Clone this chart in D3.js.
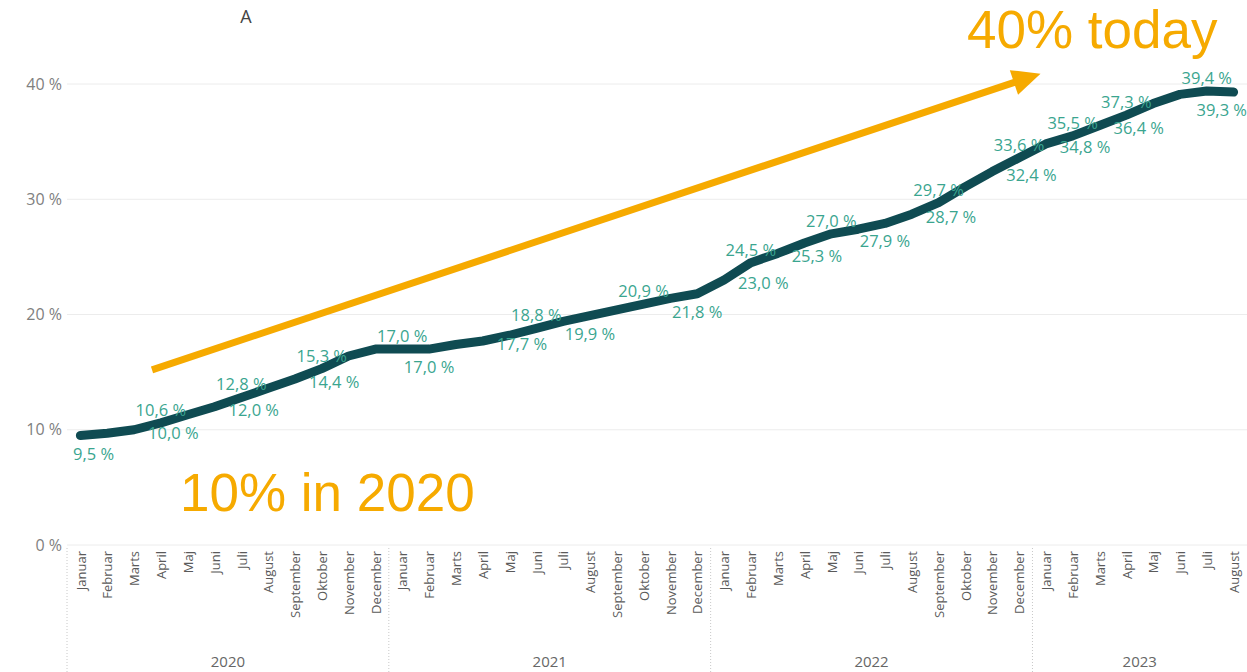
<!DOCTYPE html>
<html>
<head>
<meta charset="utf-8">
<script src="https://cdn.jsdelivr.net/npm/d3@7"></script>
<style>
  body { margin: 0; background: #fff; }
  svg { display: block; font-family: "Open Sans", sans-serif; }
</style>
</head>
<body>
<svg id="chart" width="1247" height="672"></svg>
<script>
'use strict';

// months shown on the x axis (Danish)
const monthNames = ["Januar", "Februar", "Marts", "April", "Maj", "Juni", "Juli",
  "August", "September", "Oktober", "November", "December"];
const years = ["2020", "2021", "2022", "2023"];
const monthsPerYear = [12, 12, 12, 8];

// share in %, one value per month, Jan 2020 .. Aug 2023
const shareValues = [
  9.5, 9.7, 10.0, 10.6, 11.3, 12.0, 12.8, 13.6, 14.4, 15.3, 16.4, 17.0,
  17.0, 17.0, 17.4, 17.7, 18.2, 18.8, 19.4, 19.9, 20.4, 20.9, 21.4, 21.8,
  23.0, 24.5, 25.3, 26.2, 27.0, 27.4, 27.9, 28.7, 29.7, 31.1, 32.4, 33.6,
  34.8, 35.5, 36.4, 37.3, 38.3, 39.1, 39.4, 39.3
];

// where the data label of each month sits ("" = no label)
const labelPlacement = [
  "below", "", "right", "above", "", "right", "above", "", "right", "above", "", "",
  "above", "below", "", "right", "", "above", "", "below", "", "above", "", "below",
  "right", "above", "right", "", "above", "", "below", "right", "above", "", "right", "above",
  "right", "above", "right", "above", "", "", "above", "below"
];

const yTicks = [0, 10, 20, 30, 40];

// build month keys like "2020-0"
const monthKeys = [];
years.forEach((yr, yi) => {
  for (let m = 0; m < monthsPerYear[yi]; m++) {
    monthKeys.push(yr + "-" + m);
  }
});

const data = monthKeys.map((k, i) => ({ key: k, value: shareValues[i], place: labelPlacement[i] }));

const svg = d3.select('#chart');
const plotLeft = 67, plotRight = 1247, plotTop = 84, plotBottom = 545;

const x = d3.scalePoint().domain(monthKeys).range([plotLeft, plotRight]).padding(0.5);
const y = d3.scaleLinear().domain([0, 40]).range([plotBottom, plotTop]);
const step = x.step();

const fmt = v => d3.format(".1f")(v).replace(".", ",") + " %";

// gridlines
svg.append('g')
  .selectAll('line')
  .data(yTicks)
  .enter()
  .append('line')
  .attr('x1', plotLeft)
  .attr('x2', plotRight)
  .attr('y1', d => y(d))
  .attr('y2', d => y(d))
  .attr('stroke', '#ececec')
  .attr('stroke-width', 1);

// y axis
const yAxis = svg.append('g')
  .attr('transform', `translate(${plotLeft - 5},0)`)
  .call(d3.axisLeft(y).tickValues(yTicks).tickSize(0).tickPadding(0).tickFormat(d => d + " %"));
yAxis.select('.domain').remove();
yAxis.selectAll('text')
  .attr('fill', '#808080')
  .style('font-size', '16px')
  .style('font-family', '"Open Sans", sans-serif');

// x axis, month names rotated
const xAxis = svg.append('g')
  .attr('transform', `translate(0,${plotBottom})`)
  .call(d3.axisBottom(x).tickSize(0).tickFormat(d => monthNames[+d.split("-")[1]]));
xAxis.select('.domain').remove();
xAxis.selectAll('text')
  .attr('transform', 'rotate(-90)')
  .attr('x', -6)
  .attr('y', 0)
  .attr('dy', '0.36em')
  .attr('text-anchor', 'end')
  .attr('fill', '#5a5a5a')
  .style('font-size', '13px')
  .style('font-family', '"Open Sans", sans-serif');

// year groups
years.forEach((yr, yi) => {
  const first = monthKeys.indexOf(yr + "-0");
  const last = first + monthsPerYear[yi] - 1;
  const x0 = x(monthKeys[first]) - step / 2;
  const x1 = x(monthKeys[last]) + step / 2;
  svg.append('line')
    .attr('x1', x0).attr('x2', x0)
    .attr('y1', plotBottom + 3).attr('y2', 672)
    .attr('stroke', '#c8c8c8')
    .attr('stroke-width', 1)
    .attr('stroke-dasharray', '1,2');
  svg.append('text')
    .attr('x', (x0 + x1) / 2)
    .attr('y', 667)
    .attr('text-anchor', 'middle')
    .attr('fill', '#666')
    .style('font-size', '15px')
    .text(yr);
});

// title
svg.append('text')
  .attr('x', 246)
  .attr('y', 23)
  .attr('text-anchor', 'middle')
  .attr('fill', '#444')
  .style('font-size', '18px')
  .text('A');

// the line
const line = d3.line()
  .x(d => x(d.key))
  .y(d => y(d.value));

svg.append('path')
  .datum(data)
  .attr('d', line)
  .attr('fill', 'none')
  .attr('stroke', '#0f4b52')
  .attr('stroke-width', 9)
  .attr('stroke-linejoin', 'round')
  .attr('stroke-linecap', 'round');

// data labels
const labels = svg.append('g')
  .selectAll('text')
  .data(data.filter(d => d.place !== ""))
  .enter()
  .append('text')
  .attr('fill', '#3aa58f')
  .style('font-size', '16.5px')
  .attr('text-anchor', d => d.place === 'right' ? 'start' : 'middle')
  .attr('x', d => d.place === 'right' ? x(d.key) + 14 : x(d.key))
  .attr('y', d => {
    if (d.place === 'above') return y(d.value) - 7;
    if (d.place === 'below') return y(d.value) + 24;
    return y(d.value) + 9;
  })
  .text(d => fmt(d.value));

// keep labels inside the plot area
labels.each(function() {
  const box = this.getBBox();
  const el = d3.select(this);
  if (box.x < plotLeft + 6) el.attr('x', +el.attr('x') + (plotLeft + 6 - box.x));
  if (box.x + box.width > plotRight) el.attr('x', +el.attr('x') - (box.x + box.width - plotRight));
});

// orange annotation arrow, placed in data units
const orange = '#f6aa00';
const aStart = { i: 2.67, v: 15.2 };
const aEnd = { i: 35.8, v: 40.9 };
const ix = i => x(monthKeys[0]) + i * step;
const sx = ix(aStart.i), sy = y(aStart.v), ex = ix(aEnd.i), ey = y(aEnd.v);
const ang = Math.atan2(ey - sy, ex - sx);
const headLen = 28, headW = 13;
const bx = ex - headLen * Math.cos(ang), by = ey - headLen * Math.sin(ang);

svg.append('line')
  .attr('x1', sx).attr('y1', sy)
  .attr('x2', bx + 2 * Math.cos(ang)).attr('y2', by + 2 * Math.sin(ang))
  .attr('stroke', orange)
  .attr('stroke-width', 7);

svg.append('path')
  .attr('d', d3.line()([
    [ex, ey],
    [bx + headW * Math.sin(ang), by - headW * Math.cos(ang)],
    [bx - headW * Math.sin(ang), by + headW * Math.cos(ang)]
  ]) + 'Z')
  .attr('fill', orange);

// annotation texts
svg.append('text')
  .attr('x', 180)
  .attr('y', 511)
  .attr('fill', orange)
  .style('font-family', '"Liberation Sans", Arial, sans-serif')
  .style('font-size', '53px')
  .text('10% in 2020');

svg.append('text')
  .attr('x', 967)
  .attr('y', 48)
  .attr('fill', orange)
  .style('font-family', '"Liberation Sans", Arial, sans-serif')
  .style('font-size', '53px')
  .text('40% today');
</script>
</body>
</html>
